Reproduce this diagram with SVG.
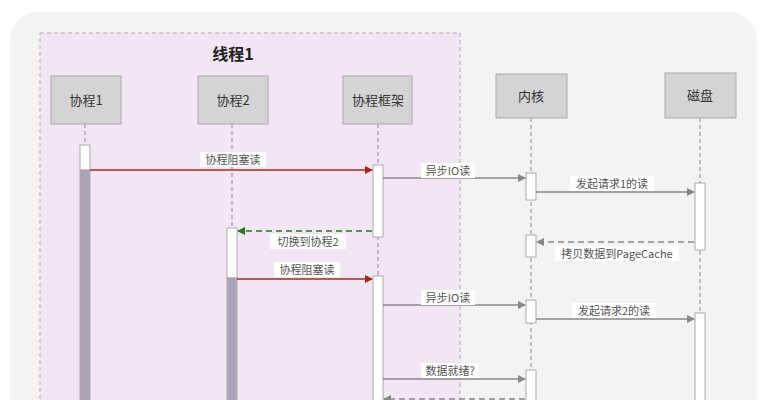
<svg xmlns="http://www.w3.org/2000/svg" width="767" height="400" viewBox="0 0 767 400">
<style>
text{font-family:"Noto Sans CJK SC","Liberation Sans",sans-serif;fill:#555;font-size:11px;text-anchor:middle}
.node rect{fill:#d4d4d4;stroke:#aaa;stroke-width:1}
.node text{font-size:13px;fill:#333}
.life{stroke:#888;stroke-dasharray:4 3;stroke-width:1}
.act{fill:#fff;stroke:#aaa;stroke-width:1}
.blk{fill:#aaa3bb;stroke:#aaa;stroke-width:1}
.lbl{fill:#fff}
.g{stroke:#888;stroke-width:1.5;fill:none}
.r{stroke:#b02418;stroke-width:1.5;fill:none}
.gr{stroke:#1f7a1f;stroke-width:1.5;stroke-dasharray:6 4;fill:none}
.gd{stroke:#888;stroke-width:1.5;stroke-dasharray:6 4;fill:none}
</style>
<defs>
<marker id="ag" markerWidth="8" markerHeight="8" refX="7" refY="4" orient="auto" markerUnits="userSpaceOnUse"><path d="M0,0 L8,4 L0,8z" fill="#888"/></marker>
<marker id="ar" markerWidth="8" markerHeight="8" refX="7" refY="4" orient="auto" markerUnits="userSpaceOnUse"><path d="M0,0 L8,4 L0,8z" fill="#b02418"/></marker>
<marker id="agr" markerWidth="8" markerHeight="8" refX="7" refY="4" orient="auto" markerUnits="userSpaceOnUse"><path d="M0,0 L8,4 L0,8z" fill="#1f7a1f"/></marker>
</defs>
<rect width="767" height="400" fill="#fff"/>
<rect x="10" y="12" width="747" height="420" rx="28" fill="#f4f3f2"/>
<rect x="40" y="33" width="420" height="400" fill="#f2e6f4" stroke="#aaa" stroke-dasharray="4 3"/>
<text x="233" y="60" style="font-size:16px;font-weight:bold;fill:#222">线程1</text>
<g id="lifelines">
<line class="life" x1="85" y1="124" x2="85" y2="400"/>
<line class="life" x1="232" y1="124" x2="232" y2="400"/>
<line class="life" x1="378" y1="124" x2="378" y2="400"/>
<line class="life" x1="531" y1="118" x2="531" y2="400"/>
<line class="life" x1="700" y1="118" x2="700" y2="400"/>
</g>
<g id="n1" class="node"><rect x="51" y="76" width="70" height="48"/><text x="86" y="105">协程1</text></g>
<g id="n2" class="node"><rect x="198" y="76" width="70" height="48"/><text x="233" y="105">协程2</text></g>
<g id="n3" class="node"><rect x="343" y="76" width="69" height="48"/><text x="378" y="105">协程框架</text></g>
<g id="n4" class="node"><rect x="496" y="74" width="71" height="44"/><text x="531" y="101">内核</text></g>
<g id="n5" class="node"><rect x="665" y="73" width="71" height="45"/><text x="700" y="100">磁盘</text></g>
<g id="activations">
<rect class="act" x="80" y="145" width="10" height="25"/><rect class="blk" x="80" y="170" width="10" height="240"/>
<rect class="act" x="227" y="228" width="10" height="50"/><rect class="blk" x="227" y="278" width="10" height="130"/>
<rect class="act" x="373" y="165" width="10" height="72"/><rect class="act" x="373" y="276" width="10" height="130"/>
<rect class="act" x="526" y="173" width="10" height="27"/><rect class="act" x="526" y="235" width="10" height="22"/>
<rect class="act" x="526" y="300" width="10" height="23"/><rect class="act" x="526" y="370" width="10" height="40"/>
<rect class="act" x="695" y="183" width="10" height="67"/><rect class="act" x="695" y="313" width="10" height="100"/>
</g>
<g id="connectors">
<line class="r" x1="90" y1="170" x2="372" y2="170" marker-end="url(#ar)"/>
<rect class="lbl" x="200" y="152" width="66" height="15"/><text x="233" y="164">协程阻塞读</text>
<line class="g" x1="383" y1="178" x2="525" y2="178" marker-end="url(#ag)"/>
<rect class="lbl" x="421" y="163" width="54" height="15"/><text x="448" y="175">异步IO读</text>
<line class="g" x1="536" y1="192" x2="694" y2="192" marker-end="url(#ag)"/>
<rect class="lbl" x="570" y="176" width="84" height="15"/><text x="612" y="188">发起请求1的读</text>
<line class="gr" x1="372" y1="231" x2="238" y2="231" marker-end="url(#agr)"/>
<rect class="lbl" x="270" y="234" width="76" height="15"/><text x="308" y="246">切换到协程2</text>
<line class="gd" x1="694" y1="242" x2="537" y2="242" marker-end="url(#ag)"/>
<rect class="lbl" x="555" y="246" width="124" height="15"/><text x="617" y="258">拷贝数据到PageCache</text>
<line class="r" x1="237" y1="279" x2="372" y2="279" marker-end="url(#ar)"/>
<rect class="lbl" x="274" y="262" width="66" height="15"/><text x="307" y="274">协程阻塞读</text>
<line class="g" x1="383" y1="305" x2="525" y2="305" marker-end="url(#ag)"/>
<rect class="lbl" x="421" y="290" width="54" height="15"/><text x="448" y="302">异步IO读</text>
<line class="g" x1="536" y1="319" x2="694" y2="319" marker-end="url(#ag)"/>
<rect class="lbl" x="572" y="303" width="84" height="15"/><text x="614" y="315">发起请求2的读</text>
<line class="g" x1="383" y1="379" x2="525" y2="379" marker-end="url(#ag)"/>
<rect class="lbl" x="421" y="363" width="58" height="15"/><text x="450" y="375">数据就绪?</text>
<line class="gd" x1="525" y1="399" x2="384" y2="399" marker-end="url(#ag)"/>
</g>
</svg>
